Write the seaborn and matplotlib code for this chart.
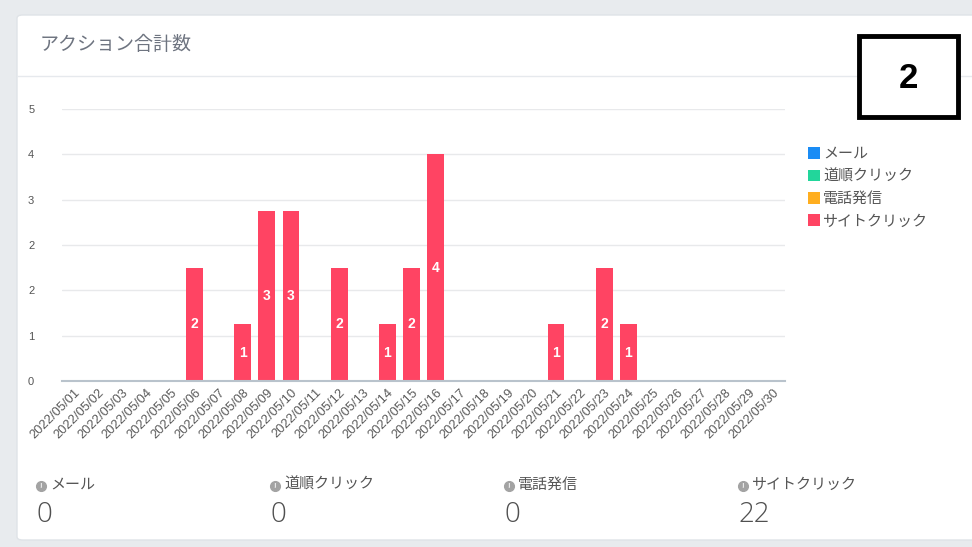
import numpy as np
import pandas as pd
import matplotlib
matplotlib.use("Agg")
import matplotlib.pyplot as plt
import seaborn as sns
from matplotlib.patches import FancyBboxPatch, Rectangle, Patch
from matplotlib.lines import Line2D

# data
dates = [f"2022/05/{d:02d}" for d in range(1, 31)]
series = ["メール", "道順クリック", "電話発信", "サイトクリック"]
colors = ["#1a8cf5", "#22d69b", "#ffae1f", "#ff4463"]
mail = [0] * 30
route = [0] * 30
phone = [0] * 30
site = [0, 0, 0, 0, 0, 2, 0, 1, 3, 3, 0, 2, 0, 1, 2, 4, 0, 0, 0, 0,
        1, 0, 2, 1, 0, 0, 0, 0, 0, 0]
totals = [sum(mail), sum(route), sum(phone), sum(site)]
y_ticks = [0, 0.8, 1.6, 2.4, 3.2, 4.0, 4.8]
y_tick_labels = ["0", "1", "2", "2", "3", "4", "5"]

df = pd.DataFrame({
    "date": dates * 4,
    "series": np.repeat(series, 30),
    "value": mail + route + phone + site,
})

sns.set_style("white")
plt.rcParams["font.family"] = ["Noto Sans CJK JP", "DejaVu Sans"]

W, H = 972, 547
fig = plt.figure(figsize=(W / 100, H / 100), dpi=100)
fig.patch.set_facecolor("#e8ebee")

def fx(px):
    return px / W

def fy(py):
    return 1 - py / H

# white card behind everything
card = FancyBboxPatch((fx(17), fy(540)), fx(972 - 17 + 20), (540 - 15) / H,
                      boxstyle="round,pad=0,rounding_size=0.006",
                      transform=fig.transFigure, facecolor="white",
                      edgecolor="#dfe3e7", lw=1, zorder=-10)
fig.patches.append(card)
fig.add_artist(Line2D([fx(17), 1], [fy(76), fy(76)], color="#e6e9ed", lw=1,
                      transform=fig.transFigure, zorder=-5))

fig.text(fx(40), fy(45), "アクション合計数", fontsize=13.7, color="#6e7480",
         va="center", ha="left")

# chart
ax = fig.add_axes([fx(62), fy(381), fx(785 - 62), (381 - 109) / H])
ax.set_facecolor("none")
sns.barplot(data=df, x="date", y="value", hue="series", hue_order=series,
            palette=dict(zip(series, colors)), dodge=False, width=0.7,
            saturation=1, linewidth=0, legend=False, ax=ax, order=dates)

site_bars = ax.containers[-1]
ax.bar_label(site_bars, labels=[str(v) if v else "" for v in site],
             label_type="center", color="white", fontsize=10,
             fontweight="bold", family=["Liberation Sans", "DejaVu Sans"])

ax.set_xlim(-0.5, 29.5)
ax.set_ylim(0, 4.8)
ax.set_yticks(y_ticks)
ax.set_yticklabels(y_tick_labels)
ax.set_xlabel("")
ax.set_ylabel("")
ax.grid(axis="y", color="#e8e9eb", lw=1)
ax.set_axisbelow(True)
for s in ["top", "right", "left"]:
    ax.spines[s].set_visible(False)
ax.spines["bottom"].set_color("#b9c3cc")
ax.spines["bottom"].set_linewidth(1.5)

ax.tick_params(axis="y", length=0, pad=20, labelsize=8, labelcolor="#555555")
for lab in ax.get_yticklabels():
    lab.set_family(["Liberation Sans", "DejaVu Sans"])
ax.tick_params(axis="x", which="major", length=0, pad=4, labelsize=9.3,
               labelcolor="#5a5a5a")
ax.set_xticks(np.arange(0.5, 29.5, 1), minor=True)
ax.tick_params(axis="x", which="minor", length=5, width=1, color="#b9c3cc")
for lab in ax.get_xticklabels():
    lab.set_rotation(45)
    lab.set_ha("right")
    lab.set_rotation_mode("anchor")
    lab.set_family(["Liberation Sans", "DejaVu Sans"])

# legend
handles = [Patch(facecolor=c, edgecolor="none") for c in colors]
fig.legend(handles, series, loc="upper left",
           bbox_to_anchor=(fx(808), fy(147)), frameon=False,
           fontsize=10.8, labelcolor="#555555", handlelength=0.8,
           handleheight=0.8, handletextpad=0.2, labelspacing=0.56,
           borderaxespad=0, borderpad=0)

# annotation box
fig.patches.append(Rectangle((fx(859), fy(117)), fx(958 - 859), (117 - 36) / H,
                             transform=fig.transFigure, facecolor="white",
                             edgecolor="black", lw=3.5, zorder=5))
fig.text(fx(908), fy(78), "2", fontsize=25, fontweight="bold", color="black",
         ha="center", va="center", zorder=6,
         family=["Liberation Sans", "DejaVu Sans"])

# totals row
for i, (name, tot) in enumerate(zip(series, totals)):
    x0 = 36 + i * 234
    fig.add_artist(Line2D([fx(x0 + 5)], [fy(486)], marker="o", markersize=7,
                          color="#a3a3a3", transform=fig.transFigure, lw=0))
    fig.text(fx(x0 + 5), fy(486), "!", fontsize=5, color="white",
             fontweight="bold", ha="center", va="center")
    fig.text(fx(x0 + 14), fy(485), name, fontsize=10.8, color="#555555",
             ha="left", va="center")
    fig.text(fx(x0), fy(515), str(tot), fontsize=20, color="#505050",
             ha="left", va="center", family=["Open Sans", "DejaVu Sans"],
             fontweight="light")

fig.savefig("out.png", dpi=100, facecolor=fig.get_facecolor())
